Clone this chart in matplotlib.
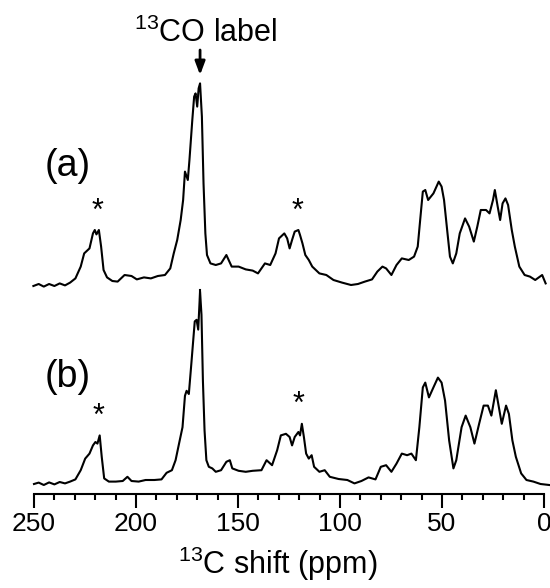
import matplotlib
matplotlib.use("Agg")
import matplotlib.pyplot as plt
import numpy as np

plt.rcParams['font.family'] = ['Liberation Sans', 'DejaVu Sans']
plt.rcParams['mathtext.default'] = 'regular'

# ---- data ----
ppm_a = [250.3, 247.7, 245.2, 242.6, 240.0, 237.4, 234.8, 232.3, 229.7, 227.1, 225.4, 222.8, 221.1, 220.2, 219.4,
         218.2, 217.1, 215.9, 214.2, 211.6, 209.0, 205.6, 202.2, 199.6, 196.1, 192.7, 189.3, 185.8, 183.2, 181.5,
         179.8, 178.1, 176.9, 176.0, 174.6, 173.8, 172.4, 171.5, 170.8, 170.0, 169.3, 168.6, 167.7, 166.9, 166.0,
         165.2, 163.5, 160.9, 158.3, 155.7, 153.1, 149.7, 146.2, 142.8, 140.2, 136.8, 134.2, 131.6, 129.9, 127.3,
         125.9, 124.7, 123.5, 122.2, 120.4, 119.6, 118.4, 117.0, 115.3, 113.6, 110.1, 106.7, 103.2, 99.0, 94.6,
         91.2, 87.8, 84.3, 81.7, 79.2, 77.4, 74.8, 72.3, 69.7, 66.3, 63.7, 61.9, 60.7, 59.4, 58.2, 56.8, 54.2,
         51.6, 50.2, 49.0, 47.3, 46.1, 44.7, 43.0, 41.3, 38.7, 36.7, 34.4, 32.7, 31.0, 28.4, 26.7, 25.0, 24.1,
         22.7, 21.5, 20.3, 18.9, 17.6, 15.8, 14.3, 12.1, 9.5, 6.9, 4.3, 0.9, -0.8]
int_a = [-0.5, 0.5, -0.8, 0.5, -0.5, 0.8, -0.2, 1.2, 3.3, 9.2, 15.8, 18.3, 25.8, 27.5, 25.3,
         27.5, 19.2, 7.5, 3.8, 2.0, 1.7, 5.0, 4.5, 2.8, 3.8, 3.3, 4.5, 5.0, 8.3, 15.8,
         22.5, 32.5, 42.5, 56.7, 52.5, 62.5, 82.5, 94.2, 95.8, 89.2, 98.3, 100.8, 84.2, 50.8, 25.8,
         15.0, 10.8, 10.0, 10.8, 15.0, 9.2, 9.2, 7.8, 7.2, 5.8, 10.8, 10.0, 15.8, 23.3, 25.8,
         23.3, 18.3, 22.5, 26.7, 27.5, 25.0, 20.8, 15.0, 12.5, 9.2, 5.8, 5.0, 2.5, 1.2, 0.0,
         0.5, 1.7, 2.8, 6.7, 9.2, 8.3, 5.0, 10.0, 13.3, 12.5, 14.2, 19.2, 32.5, 46.7, 47.5, 42.5, 45.8,
         51.7, 49.2, 42.5, 25.8, 14.2, 10.8, 15.8, 25.8, 33.3, 29.2, 21.7, 29.2, 37.5, 37.5, 35.8, 42.5, 47.5,
         39.2, 32.5, 40.8, 43.3, 40.0, 27.5, 19.2, 9.2, 5.0, 4.2, 2.5, 5.0, 0.8]

ppm_b = [250.0, 247.7, 245.2, 242.6, 240.0, 237.4, 234.8, 232.3, 229.7, 227.1, 224.9, 222.8, 221.1, 219.9, 218.9,
         217.8, 216.8, 215.6, 213.3, 209.9, 206.5, 204.2, 202.2, 198.7, 195.3, 191.0, 187.5, 185.0, 182.4, 180.6,
         178.9, 177.2, 176.0, 175.2, 174.1, 172.9, 171.2, 170.3, 169.5, 168.6, 167.9, 167.2, 166.4, 165.5, 164.3,
         162.6, 160.9, 158.3, 155.7, 154.0, 152.8, 149.7, 146.2, 142.8, 138.5, 136.0, 133.3, 130.8, 129.0, 126.5,
         124.7, 123.5, 122.2, 120.4, 119.6, 118.7, 117.7, 116.6, 115.3, 113.9, 112.7, 110.1, 107.5, 105.0, 100.7,
         96.4, 92.9, 89.5, 86.0, 82.6, 80.0, 77.4, 74.8, 72.3, 69.7, 67.1, 65.0, 62.8, 61.1, 59.4, 58.2, 56.4,
         54.2, 52.0, 50.2, 48.5, 46.5, 44.4, 43.0, 40.4, 38.4, 36.1, 34.1, 31.8, 29.6, 27.5, 25.8, 23.6, 22.4,
         20.7, 18.6, 17.2, 15.5, 13.8, 11.2, 8.6, 5.2, 1.7, -2.6]
int_b = [0.0, 0.7, -0.5, 0.8, -0.2, 1.0, 0.3, 1.2, 2.3, 6.9, 12.7, 15.2, 19.3, 21.0, 20.2,
         24.3, 13.6, 2.8, 1.2, 1.2, 1.5, 3.6, 1.5, 1.2, 2.0, 2.0, 2.3, 5.6, 6.9, 11.9,
         20.2, 28.4, 44.1, 46.6, 45.0, 59.8, 81.3, 82.1, 77.2, 96.2, 84.6, 51.6, 26.8, 11.9, 8.6,
         7.8, 6.1, 6.9, 11.1, 11.9, 7.8, 6.6, 6.1, 6.6, 6.9, 11.9, 9.4, 16.9, 24.3, 25.1,
         23.5, 19.3, 23.5, 26.0, 24.3, 30.1, 23.5, 15.2, 12.7, 14.4, 8.6, 6.1, 6.9, 3.6, 2.5,
         2.0, 0.3, 1.5, 3.3, 2.3, 8.6, 9.4, 6.1, 10.2, 15.2, 14.4, 15.2, 11.9, 28.4, 48.3, 50.7, 43.3,
         48.3, 53.2, 50.7, 41.7, 21.8, 7.8, 11.9, 28.4, 34.2, 28.4, 20.2, 30.1, 39.2, 39.2, 34.2, 46.9, 40.0,
         30.1, 39.2, 35.0, 21.8, 13.6, 5.3, 2.0, 1.2, 0.0, -0.5]

offset_a = 99.5
labels = ['(a)', '(b)']
star_ppm_a = [218.9, 120.6]
star_ppm_b = [218.6, 120.1]
label_ppm = 168.6
xticks_major = [250, 200, 150, 100, 50, 0]

# ---- figure ----
W, H = 550, 588
fig = plt.figure(figsize=(W / 100, H / 100), dpi=100)
ax_left, ax_right, ax_bot, ax_top = 34, 544, 494, 60
ax = fig.add_axes([ax_left / W, 1 - ax_bot / H, (ax_right - ax_left) / W, (ax_bot - ax_top) / H])

def ypx(p):
    # pixel row -> data y  (2 px per unit, axis line at -5)
    return -5 + (ax_bot - p) / 2.0

ax.plot(ppm_a, np.array(int_a) + offset_a, color='black', lw=1.5, clip_on=False)
ax.plot(ppm_b, int_b, color='black', lw=1.5, clip_on=False)

ax.set_xlim(250, 0)
ax.set_ylim(-5, ypx(ax_top))

for s in ['left', 'right', 'top']:
    ax.spines[s].set_visible(False)
ax.spines['bottom'].set_linewidth(1.5)
ax.set_yticks([])
ax.set_xticks(xticks_major)
ax.set_xticks(np.arange(0, 251, 10), minor=True)
ax.tick_params(axis='x', which='major', direction='out', length=10, width=1.5, pad=3, labelsize=19)
ax.tick_params(axis='x', which='minor', direction='out', length=4.5, width=1.5)

# asterisks
for p in star_ppm_a:
    ax.text(p, ypx(220), '*', ha='center', va='baseline', fontsize=22)
ax.text(star_ppm_b[0], ypx(425), '*', ha='center', va='baseline', fontsize=22)
ax.text(star_ppm_b[1], ypx(413), '*', ha='center', va='baseline', fontsize=22)

# panel labels
fig.text(45 / W, 1 - 176 / H, labels[0], ha='left', va='baseline', fontsize=27)
fig.text(45 / W, 1 - 387 / H, labels[1], ha='left', va='baseline', fontsize=27)

# 13CO label + arrow
fig.text(206 / W, 1 - 42 / H, r'$^{13}$CO label', ha='center', va='baseline', fontsize=22)
ax.annotate('', xy=(label_ppm, ypx(75)), xytext=(label_ppm, ypx(50)),
            arrowprops=dict(arrowstyle='-|>,head_width=0.3,head_length=0.8', lw=2, color='black',
                            shrinkA=0, shrinkB=0),
            annotation_clip=False)
ax.plot([label_ppm, label_ppm], [ypx(290), ypx(299)], color='black', lw=1.5, clip_on=False)

# x label
fig.text(278 / W, 1 - 574 / H, r'$^{13}$C shift (ppm)', ha='center', va='baseline', fontsize=22)

fig.savefig('out.png', dpi=100)
